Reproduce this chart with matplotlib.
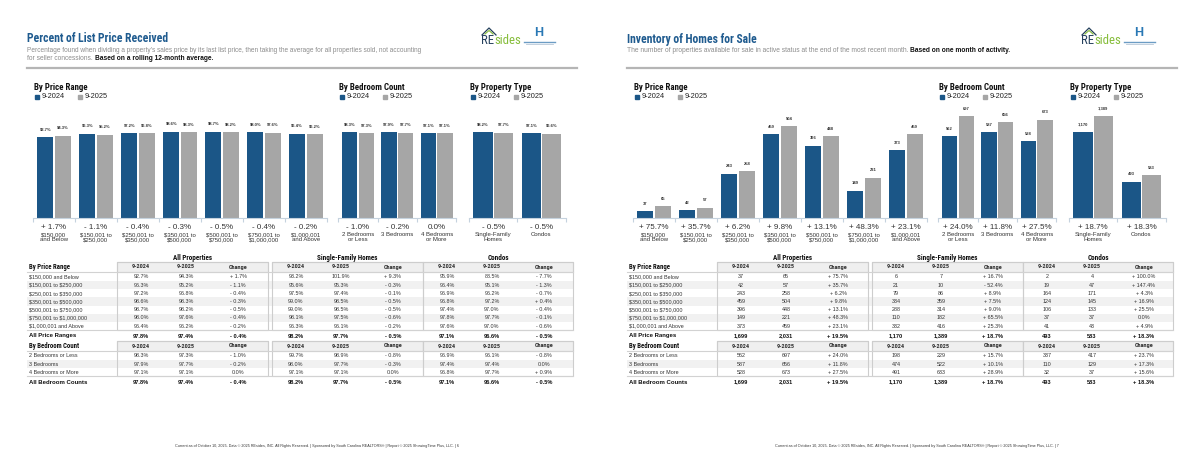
import matplotlib
matplotlib.use("Agg")
import matplotlib.pyplot as plt
from matplotlib import font_manager
from matplotlib.patches import Rectangle

W, H = 1200, 463
BLUE = "#1b5687"
GRAY = "#a6a6a6"
TITLE_BLUE = "#1f5b8f"
SANS = ["Liberation Sans", "DejaVu Sans"]
plt.rcParams["font.family"] = SANS
plt.rcParams["text.parse_math"] = False

# pick a condensed face for the headings if one is installed
fonts = font_manager.fontManager.ttflist
COND = None
for want in ["Roboto Condensed", "Liberation Sans Narrow", "Arial Narrow", "DejaVu Sans Condensed"]:
    if any(f.name == want for f in fonts):
        COND = (want, "normal")
        break
if COND is None:
    for fam in ["Roboto", "DejaVu Sans", "Open Sans", "Noto Sans"]:
        if any(f.name == fam and f.stretch in ("condensed", "semi-condensed") for f in fonts):
            COND = (fam, "condensed")
            break
if COND:
    NARROW = dict(family=[COND[0], "DejaVu Sans"], fontstretch=COND[1])
    NS = 1.0
    TITLE_FS = 8.4
else:
    NARROW = dict(family=SANS)
    NS = 0.8
    TITLE_FS = 7.0

# ---- categories ----
price_cats = ["$150,000\nand Below", "$150,001 to\n$250,000", "$250,001 to\n$350,000",
              "$350,001 to\n$500,000", "$500,001 to\n$750,000", "$750,001 to\n$1,000,000",
              "$1,000,001\nand Above"]
price_rows = ["$150,000 and Below", "$150,001 to $250,000", "$250,001 to $350,000",
              "$350,001 to $500,000", "$500,001 to $750,000", "$750,001 to $1,000,000",
              "$1,000,001 and Above"]
bed_cats = ["2 Bedrooms\nor Less", "3 Bedrooms", "4 Bedrooms\nor More"]
bed_rows = ["2 Bedrooms or Less", "3 Bedrooms", "4 Bedrooms or More"]
type_cats = ["Single-Family\nHomes", "Condos"]
years = ["9-2024", "9-2025"]
groups = ["All Properties", "Single-Family Homes", "Condos"]

# ---- page 6: percent of list price received ----
pct_price_24 = [92.7, 96.3, 97.2, 98.6, 98.7, 98.0, 96.4]
pct_price_25 = [94.3, 95.2, 96.8, 98.3, 98.2, 97.6, 96.2]
pct_price_chg = ["+ 1.7%", "- 1.1%", "- 0.4%", "- 0.3%", "- 0.5%", "- 0.4%", "- 0.2%"]
pct_bed_24 = [98.3, 97.9, 97.1]
pct_bed_25 = [97.3, 97.7, 97.1]
pct_bed_chg = ["- 1.0%", "- 0.2%", "0.0%"]
pct_type_24 = [98.2, 97.1]
pct_type_25 = [97.7, 96.6]
pct_type_chg = ["- 0.5%", "- 0.5%"]
pct_total = ["97.8%", "97.4%", "- 0.4%"]

pct_sfh_price_24 = [93.2, 95.6, 97.5, 99.0, 99.0, 98.1, 96.3]
pct_sfh_price_25 = [101.9, 95.3, 97.4, 98.5, 98.5, 97.5, 96.1]
pct_sfh_price_chg = ["+ 9.3%", "- 0.3%", "- 0.1%", "- 0.5%", "- 0.5%", "- 0.6%", "- 0.2%"]
pct_sfh_bed_24 = [99.7, 98.0, 97.1]
pct_sfh_bed_25 = [98.9, 97.7, 97.1]
pct_sfh_bed_chg = ["- 0.8%", "- 0.3%", "0.0%"]
pct_sfh_total = ["98.2%", "97.7%", "- 0.5%"]

pct_condo_price_24 = [95.9, 96.4, 96.9, 96.8, 97.4, 97.8, 97.6]
pct_condo_price_25 = [88.5, 95.1, 96.2, 97.2, 97.0, 97.7, 97.0]
pct_condo_price_chg = ["- 7.7%", "- 1.3%", "- 0.7%", "+ 0.4%", "- 0.4%", "- 0.1%", "- 0.6%"]
pct_condo_bed_24 = [96.9, 97.4, 96.8]
pct_condo_bed_25 = [96.1, 97.4, 97.7]
pct_condo_bed_chg = ["- 0.8%", "0.0%", "+ 0.9%"]
pct_condo_total = ["97.1%", "96.6%", "- 0.5%"]

# ---- page 7: inventory of homes for sale ----
inv_price_24 = [37, 42, 243, 459, 396, 149, 373]
inv_price_25 = [65, 57, 258, 504, 448, 221, 459]
inv_price_chg = ["+ 75.7%", "+ 35.7%", "+ 6.2%", "+ 9.8%", "+ 13.1%", "+ 48.3%", "+ 23.1%"]
inv_bed_24 = [562, 587, 528]
inv_bed_25 = [697, 656, 673]
inv_bed_chg = ["+ 24.0%", "+ 11.8%", "+ 27.5%"]
inv_type_24 = [1170, 493]
inv_type_25 = [1389, 583]
inv_type_chg = ["+ 18.7%", "+ 18.3%"]
inv_total = ["1,699", "2,031", "+ 19.5%"]

inv_sfh_price_24 = [6, 21, 79, 334, 288, 110, 332]
inv_sfh_price_25 = [7, 10, 86, 359, 314, 182, 416]
inv_sfh_price_chg = ["+ 16.7%", "- 52.4%", "+ 8.9%", "+ 7.5%", "+ 9.0%", "+ 65.5%", "+ 25.3%"]
inv_sfh_bed_24 = [198, 474, 491]
inv_sfh_bed_25 = [229, 522, 633]
inv_sfh_bed_chg = ["+ 15.7%", "+ 10.1%", "+ 28.9%"]
inv_sfh_total = ["1,170", "1,389", "+ 18.7%"]

inv_condo_price_24 = [2, 19, 164, 124, 106, 37, 41]
inv_condo_price_25 = [4, 47, 171, 145, 133, 37, 43]
inv_condo_price_chg = ["+ 100.0%", "+ 147.4%", "+ 4.3%", "+ 16.9%", "+ 25.5%", "0.0%", "+ 4.9%"]
inv_condo_bed_24 = [337, 110, 32]
inv_condo_bed_25 = [417, 129, 37]
inv_condo_bed_chg = ["+ 23.7%", "+ 17.3%", "+ 15.6%"]
inv_condo_total = ["493", "583", "+ 18.3%"]

footer = ("Current as of October 10, 2025. Data \u00a9 2025 REsides, INC. All Rights Reserved. | "
          "Sponsored by South Carolina REALTORS\u00ae | Report \u00a9 2025 ShowingTime Plus, LLC. | ")

fig = plt.figure(figsize=(12, 4.63), dpi=100)
bg = fig.add_axes([0, 0, 1, 1])
bg.set_xlim(0, W)
bg.set_ylim(H, 0)
bg.axis("off")


def pct(v):
    return f"{v:.1f}%"


def cnt(v):
    return f"{v:,}"


def header(px, title, sub1, sub2, bold):
    bg.text(px + 27, 39, title, fontsize=TITLE_FS, fontweight="bold",
            color=TITLE_BLUE, va="center", **NARROW)
    y = 50
    if sub1:
        bg.text(px + 27, y, sub1, fontsize=4.7, color="#8c8c8c", va="center")
        y = 59
    t = bg.text(px + 27, y, sub2, fontsize=4.8, color="#8c8c8c", va="center")
    bg.annotate(bold, xy=(1, 0.5), xycoords=t, va="center", ha="left",
                fontsize=4.8, fontweight="bold", color="#111111")
    bg.plot([px + 27, px + 577], [68, 68], color="#b5b5b5", lw=1.6)
    # logos
    r = bg.text(px + 481, 41, "RE", fontsize=9.2 * NS, color="#26415e", va="center", **NARROW)
    bg.annotate("sides", xy=(1, 0.5), xycoords=r, va="center", ha="left",
                fontsize=9.2 * NS, color="#86bd3a", **NARROW)
    bg.plot([px + 482, px + 489, px + 496], [35, 28, 35], color="#26415e", lw=0.9)
    bg.plot([px + 485, px + 489, px + 493], [34, 30.5, 34], color="#86bd3a", lw=0.8)
    bg.text(px + 539, 33, "H", fontsize=9, fontweight="bold", color="#2a78b5",
            ha="center", va="center")
    bg.plot([px + 524, px + 555], [41.5, 41.5], color="#6c9cc4", lw=1.0)
    bg.plot([px + 526, px + 553], [43.5, 43.5], color="#b9c9d8", lw=0.6)
    bg.text(px + 317, 446, footer + ("6" if px == 0 else "7"), fontsize=2.7,
            color="#333333", ha="center", va="center")


def legend(x, y):
    bg.add_patch(Rectangle((x, y - 2), 4, 4, color=BLUE))
    bg.text(x + 6.5, y, years[0], fontsize=5.3, color="#222222", va="center")
    bg.add_patch(Rectangle((x + 43, y - 2), 4, 4, color=GRAY))
    bg.text(x + 49.5, y, years[1], fontsize=5.3, color="#222222", va="center")


def bar_chart(x0, x1, ymax, v24, v25, chg, cats, fmt, width, title):
    bg.text(x0 + 0.5, 87, title, fontsize=6.4 * NS, fontweight="bold",
            color="#111111", va="center", **NARROW)
    legend(x0 + 2, 97)
    ax = fig.add_axes([x0 / W, 1 - 218 / H, (x1 - x0) / W, 118 / H])
    ax.patch.set_alpha(0)
    n = len(v24)
    xs = list(range(n))
    ax.bar([i - 0.21 for i in xs], v24, width, color=BLUE)
    ax.bar([i + 0.21 for i in xs], v25, width, color=GRAY)
    ax.set_xlim(-0.5, n - 0.5)
    ax.set_ylim(0, ymax)
    for s in ["top", "right", "left"]:
        ax.spines[s].set_visible(False)
    ax.spines["bottom"].set_color("#c5d2de")
    ax.spines["bottom"].set_linewidth(0.8)
    ax.set_yticks([])
    ax.set_xticks([i - 0.5 for i in range(n + 1)])
    ax.set_xticklabels([])
    ax.tick_params(axis="x", length=3, color="#c5d2de", width=0.8)
    for i in xs:
        for off, v in ((-0.21, v24[i]), (0.21, v25[i])):
            ax.annotate(fmt(v), (i + off, v), xytext=(0, 5.3), textcoords="offset points",
                        ha="center", va="center", fontsize=3, fontweight="bold",
                        color="#333333", annotation_clip=False)
        ax.annotate(chg[i], (i, 0), xytext=(0, -6.6), textcoords="offset points",
                    ha="center", va="center", fontsize=5.8, color="#333333",
                    annotation_clip=False)
        ax.annotate(cats[i], (i, 0), xytext=(0, -10.0), textcoords="offset points",
                    ha="center", va="top", fontsize=4.3, color="#333333",
                    linespacing=1.0, annotation_clip=False)


def table(px, fmt, price_sets, bed_sets, totals):
    boxes = [(117, 268), (272, 423), (423, 573)]
    offs = [24, 69, 121]
    rh = 8.2
    bg.text(px + 29, 267, "By Price Range", fontsize=4.9 * NS, fontweight="bold",
            color="#111111", va="center", **NARROW)
    bg.text(px + 29, 346, "By Bedroom Count", fontsize=4.9 * NS, fontweight="bold",
            color="#111111", va="center", **NARROW)
    bg.text(px + 29, 336, "All Price Ranges", fontsize=4.3, fontweight="bold",
            color="#111111", va="center")
    bg.text(px + 29, 382, "All Bedroom Counts", fontsize=4.3, fontweight="bold",
            color="#111111", va="center")
    for top, rows in ((262, price_rows), (341, bed_rows)):
        y0 = top + 10
        for i, name in enumerate(rows):
            yc = y0 + rh * (i + 0.6)
            if i % 2 == 1:
                bg.add_patch(Rectangle((px + 27, yc - rh / 2), 546, rh,
                                       color="#f1f1f1", lw=0))
            bg.text(px + 29, yc, name, fontsize=3.9, color="#333333", va="center")
        bottom = y0 + rh * len(rows) + 0.5
        bg.plot([px + 27, px + 573], [y0, y0], color="#d2d2d2", lw=0.8)
        bg.plot([px + 27, px + 573], [bottom, bottom], color="#d2d2d2", lw=0.8)
        for (a, b) in boxes:
            bg.add_patch(Rectangle((px + a, top), b - a, 10, facecolor="#efefef",
                                   edgecolor="#cdcdcd", lw=0.8))
            bg.add_patch(Rectangle((px + a, top), b - a, bottom - top, facecolor="none",
                                   edgecolor="#cdcdcd", lw=0.8))
            for k, h in enumerate(years + ["Change"]):
                bg.text(px + a + offs[k], top + 5, h, fontsize=4.5 * NS, fontweight="bold",
                        color="#333333", ha="center", va="center", **NARROW)
    for g, (a, b) in enumerate(boxes):
        bg.text(px + (a + b) / 2, 258, groups[g], fontsize=5.1 * NS, fontweight="bold",
                color="#111111", ha="center", va="center", **NARROW)
        for sets, top, ytot in ((price_sets, 262, 336), (bed_sets, 341, 382)):
            v24, v25, chg = sets[g]
            for i in range(len(v24)):
                yc = top + 10 + rh * (i + 0.6)
                for k, s in enumerate([fmt(v24[i]), fmt(v25[i]), chg[i]]):
                    bg.text(px + a + offs[k], yc, s, fontsize=3.9, color="#333333",
                            ha="center", va="center")
            for k, s in enumerate(totals[g]):
                bg.text(px + a + offs[k], ytot, s, fontsize=4.1, fontweight="bold",
                        color="#111111", ha="center", va="center")


# ---------------- page 6 ----------------
header(0, "Percent of List Price Received",
       "Percentage found when dividing a property\u2019s sales price by its last list price, "
       "then taking the average for all properties sold, not accounting",
       "for seller concessions. ", "Based on a rolling 12-month average.")
bar_chart(33, 327, 135, pct_price_24, pct_price_25, pct_price_chg, price_cats, pct, 0.38,
          "By Price Range")
bar_chart(338.3, 456.3, 135, pct_bed_24, pct_bed_25, pct_bed_chg, bed_cats, pct, 0.39,
          "By Bedroom Count")
bar_chart(469, 565.6, 135, pct_type_24, pct_type_25, pct_type_chg, type_cats, pct, 0.40,
          "By Property Type")
table(0, pct,
      [(pct_price_24, pct_price_25, pct_price_chg),
       (pct_sfh_price_24, pct_sfh_price_25, pct_sfh_price_chg),
       (pct_condo_price_24, pct_condo_price_25, pct_condo_price_chg)],
      [(pct_bed_24, pct_bed_25, pct_bed_chg),
       (pct_sfh_bed_24, pct_sfh_bed_25, pct_sfh_bed_chg),
       (pct_condo_bed_24, pct_condo_bed_25, pct_condo_bed_chg)],
      [pct_total, pct_sfh_total, pct_condo_total])

# ---------------- page 7 ----------------
header(600, "Inventory of Homes for Sale", None,
       "The number of properties available for sale in active status at the end of the most recent month. ",
       "Based on one month of activity.")
bar_chart(633, 927, 646, inv_price_24, inv_price_25, inv_price_chg, price_cats, cnt, 0.38,
          "By Price Range")
bar_chart(938.3, 1056.3, 808, inv_bed_24, inv_bed_25, inv_bed_chg, bed_cats, cnt, 0.39,
          "By Bedroom Count")
bar_chart(1069, 1165.6, 1605, inv_type_24, inv_type_25, inv_type_chg, type_cats, cnt, 0.40,
          "By Property Type")
table(600, cnt,
      [(inv_price_24, inv_price_25, inv_price_chg),
       (inv_sfh_price_24, inv_sfh_price_25, inv_sfh_price_chg),
       (inv_condo_price_24, inv_condo_price_25, inv_condo_price_chg)],
      [(inv_bed_24, inv_bed_25, inv_bed_chg),
       (inv_sfh_bed_24, inv_sfh_bed_25, inv_sfh_bed_chg),
       (inv_condo_bed_24, inv_condo_bed_25, inv_condo_bed_chg)],
      [inv_total, inv_sfh_total, inv_condo_total])

fig.savefig("out.png", dpi=100)
